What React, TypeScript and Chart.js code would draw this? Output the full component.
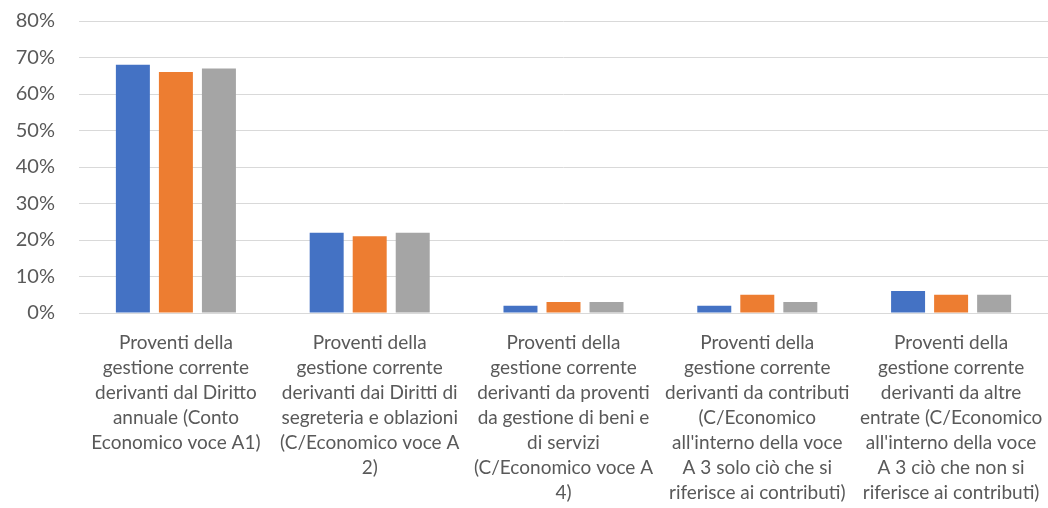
import React, { useEffect, useRef } from "react";
import { Chart, registerables } from "chart.js";

Chart.register(...registerables);

const categories: string[][] = [
  ["Proventi della", "gestione corrente", "derivanti dal Diritto", "annuale (Conto", "Economico voce A1)"],
  ["Proventi della", "gestione corrente", "derivanti dai Diritti di", "segreteria e oblazioni", "(C/Economico voce A", "2)"],
  ["Proventi della", "gestione corrente", "derivanti da proventi", "da gestione di beni e", "di servizi", "(C/Economico voce A", "4)"],
  ["Proventi della", "gestione corrente", "derivanti da contributi", "(C/Economico", "all'interno della voce", "A 3 solo ciò che si", "riferisce ai contributi)"],
  ["Proventi della", "gestione corrente", "derivanti da altre", "entrate (C/Economico", "all'interno della voce", "A 3 ciò che non si", "riferisce ai contributi)"],
];

const seriesA: number[] = [68, 22, 2, 2, 6];
const seriesB: number[] = [66, 21, 3, 5, 5];
const seriesC: number[] = [67, 22, 3, 3, 5];

const yTicks: number[] = [0, 10, 20, 30, 40, 50, 60, 70, 80];

export default function App() {
  const ref = useRef<HTMLCanvasElement | null>(null);
  useEffect(() => {
    if (!ref.current) return;
    const chart = new Chart(ref.current, {
      type: "bar",
      data: {
        labels: categories,
        datasets: [
          { label: "A", data: seriesA, backgroundColor: "#4472C4" },
          { label: "B", data: seriesB, backgroundColor: "#ED7D31" },
          { label: "C", data: seriesC, backgroundColor: "#A5A5A5" },
        ],
      },
      options: {
        animation: false,
        responsive: false,
        maintainAspectRatio: false,
        layout: { padding: { top: 21, right: 0, left: 0, bottom: 0 } },
        plugins: { legend: { display: false }, tooltip: { enabled: false }, title: { display: false } },
        datasets: { bar: { categoryPercentage: 0.666, barPercentage: 0.79 } },
        scales: {
          x: {
            grid: { display: false, drawTicks: false },
            border: { display: true, color: "#D9D9D9", width: 1 },
            ticks: {
              color: "#595959",
              font: { family: "Lato", size: 19, lineHeight: "25px" } as any,
              padding: 17,
              maxRotation: 0,
              minRotation: 0,
              autoSkip: false,
            },
            afterFit: (s: any) => {
              s.height = 195;
              s.paddingLeft = 0; s.paddingRight = 0; s.paddingTop = 0; s.paddingBottom = 0;
            },
          },
          y: {
            min: 0,
            max: 80,
            afterBuildTicks: (s: any) => { s.ticks = yTicks.map((v) => ({ value: v })); },
            grid: { color: "#D9D9D9", lineWidth: 1, drawTicks: false },
            border: { display: false },
            ticks: {
              color: "#595959",
              font: { family: "Lato", size: 20 },
              padding: 24,
              callback: (v: any) => v + "%",
            },
            afterFit: (s: any) => {
              s.width = 79;
              s.paddingLeft = 0; s.paddingRight = 0; s.paddingTop = 0; s.paddingBottom = 0;
            },
          },
        },
      },
    });
    return () => chart.destroy();
  }, []);
  return (
    <div style={{ position: "fixed", left: 0, top: 0, width: 1048, height: 508, background: "#fff" }}>
      <canvas ref={ref} width={1048} height={508} style={{ width: 1048, height: 508 }} />
    </div>
  );
}
